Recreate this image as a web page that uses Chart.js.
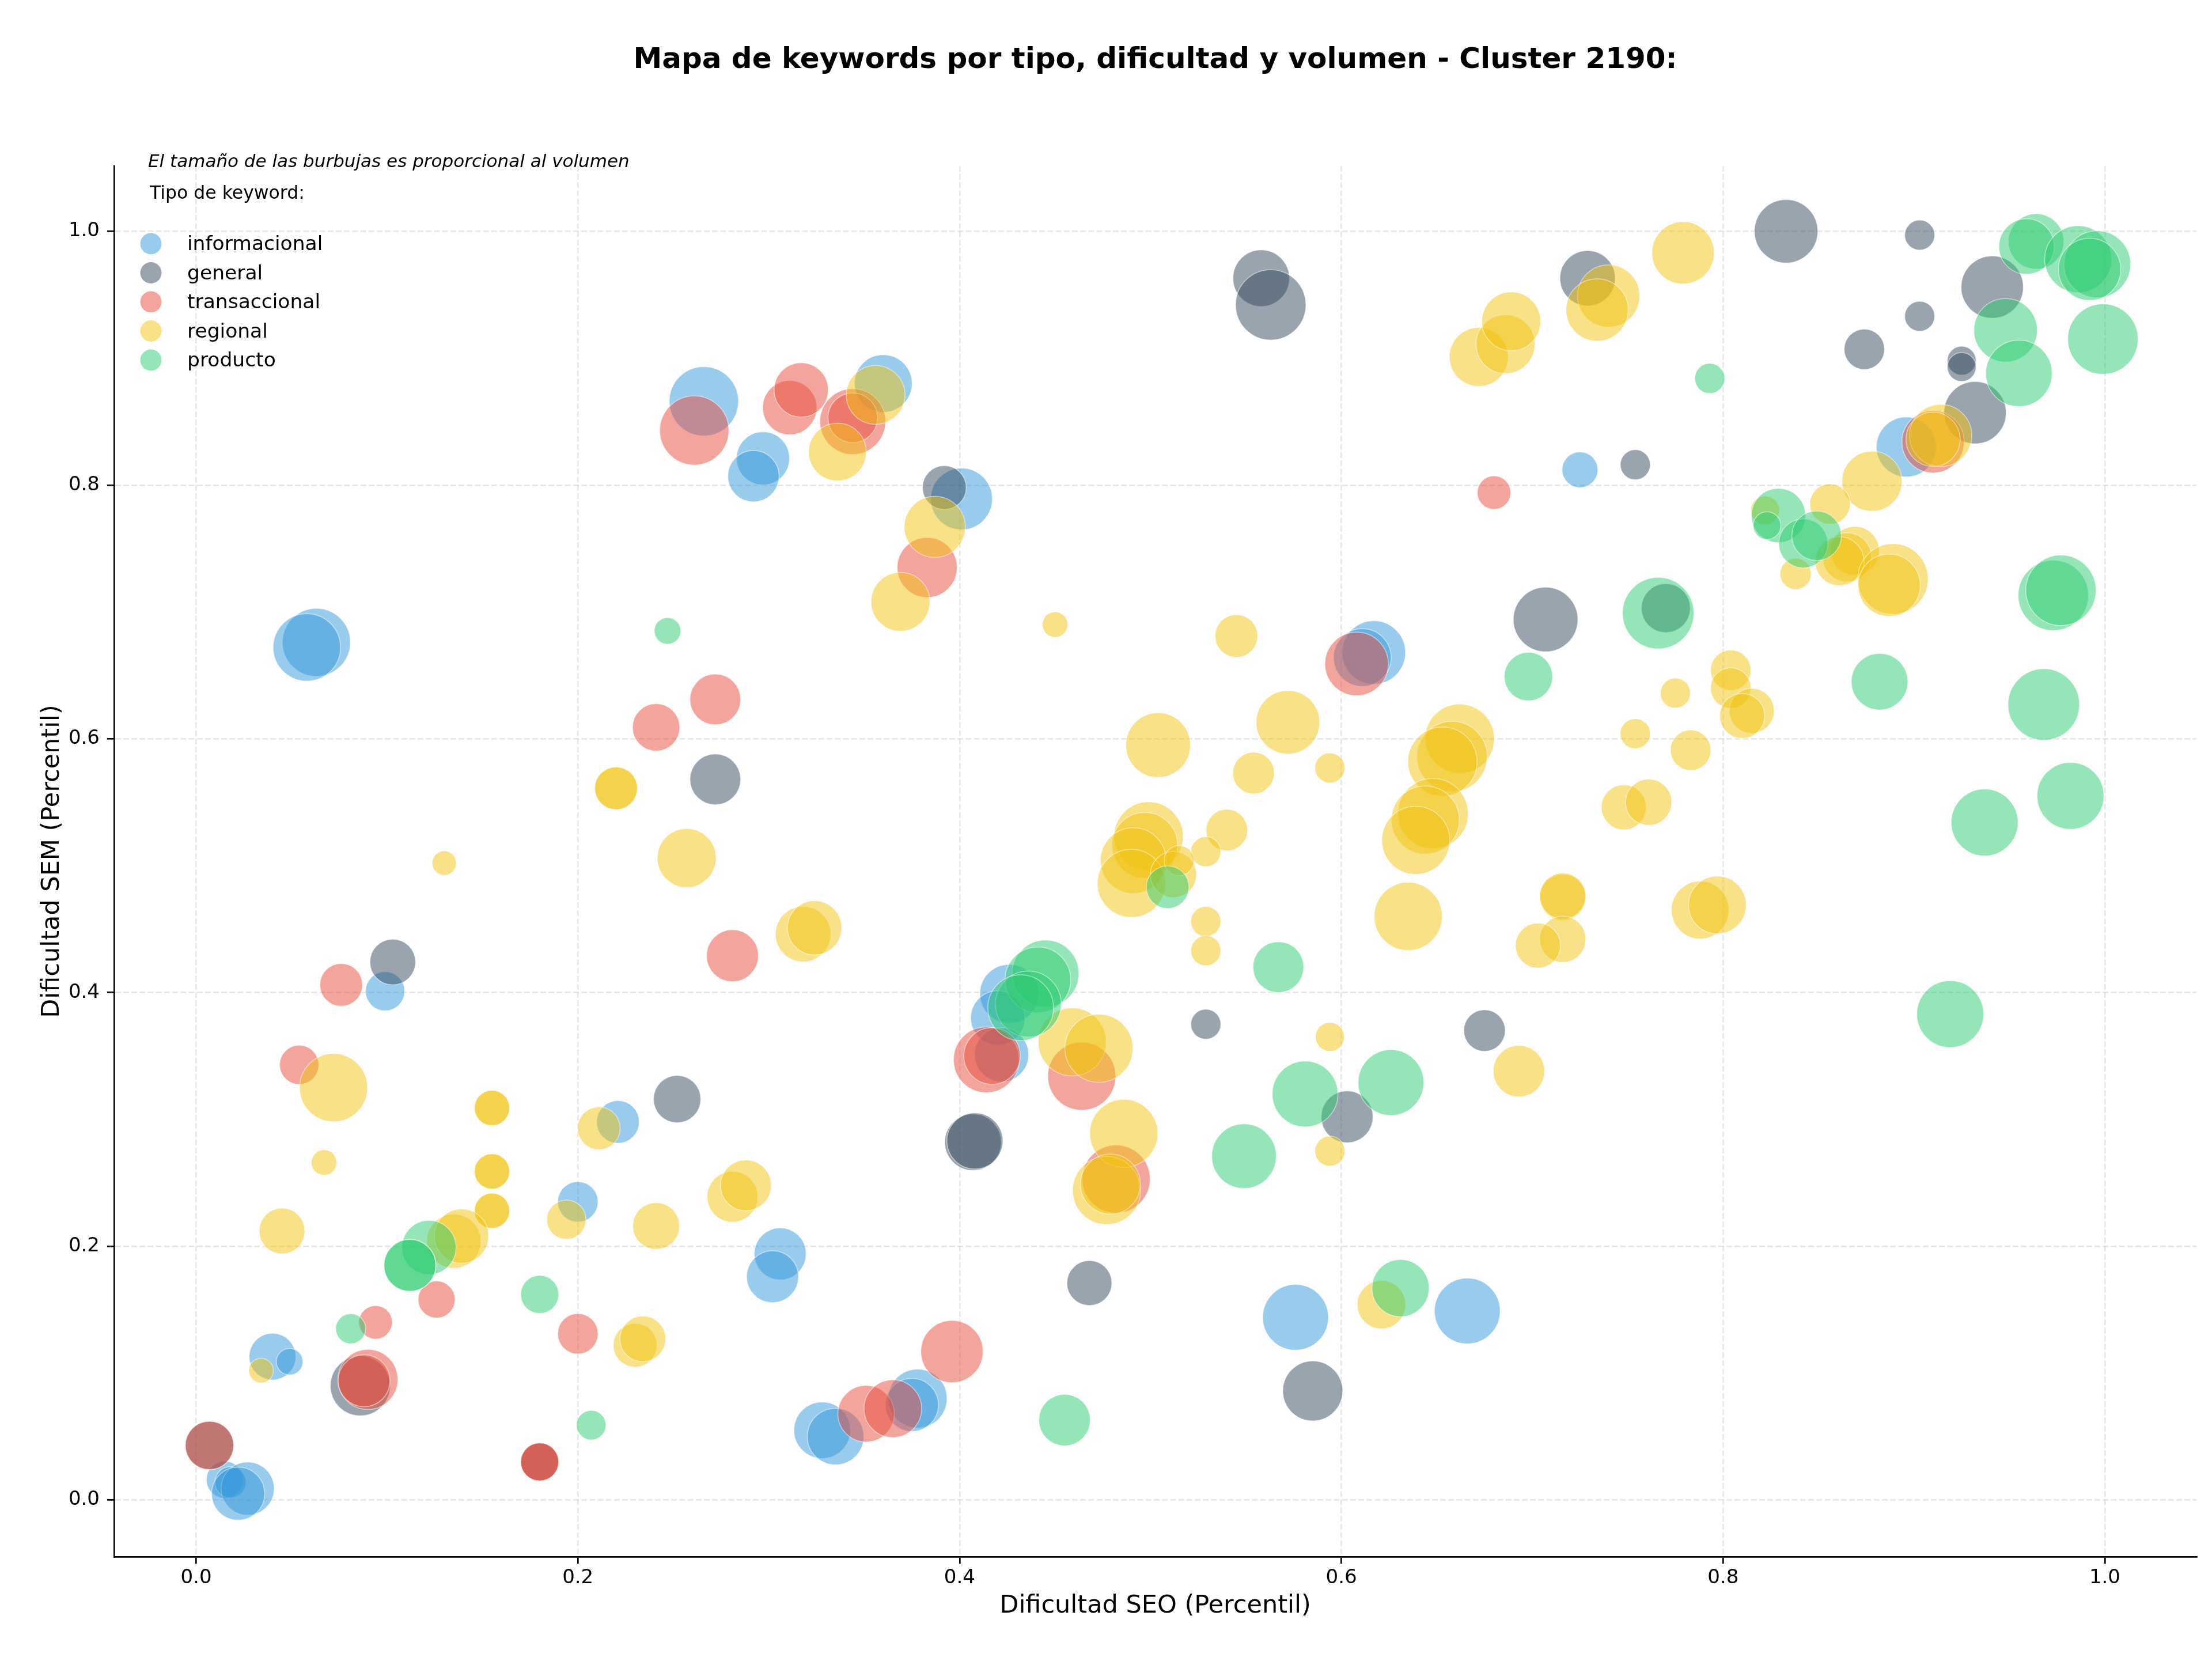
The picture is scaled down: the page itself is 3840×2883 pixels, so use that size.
<!DOCTYPE html>
<html><head><meta charset="utf-8">
<script src="https://cdn.jsdelivr.net/npm/chart.js@4/dist/chart.umd.min.js"></script>
<style>html,body{margin:0;padding:0;background:#fff;}#wrap{width:3840px;height:2883px;position:relative;}</style>
</head><body><div id="wrap"><canvas id="c" width="3840" height="2883"></canvas></div>
<script>
// ---- data ----
const titleText = 'Mapa de keywords por tipo, dificultad y volumen - Cluster 2190:';
const noteText = 'El tamaño de las burbujas es proporcional al volumen';
const legendTitle = 'Tipo de keyword:';
const xAxisTitle = 'Dificultad SEO (Percentil)';
const yAxisTitle = 'Dificultad SEM (Percentil)';
const categories = ['informacional','general','transaccional','regional','producto'];
const xTicks = [0, 0.2, 0.4, 0.6, 0.8, 1.0];
const yTicks = [0, 0.2, 0.4, 0.6, 0.8, 1.0];
const xTickLabels = ['0.0','0.2','0.4','0.6','0.8','1.0'];
const yTickLabels = ['0.0','0.2','0.4','0.6','0.8','1.0'];

// [dificultad SEO, dificultad SEM, volumen]
const informacional = [
[0.063,0.676,997],[0.058,0.672,980],[0.266,0.866,1031],[0.297,0.821,612],[0.292,0.807,574],[0.360,0.880,720],[0.401,0.789,823],[0.617,0.668,869],[0.611,0.664,720],[0.725,0.812,284],[0.896,0.830,778],[0.099,0.401,339],[0.221,0.298,400],[0.200,0.235,359],[0.306,0.194,586],[0.302,0.176,586],[0.040,0.113,477],[0.049,0.109,160],[0.015,0.016,302],[0.018,0.014,217],[0.027,0.009,612],[0.022,0.005,612],[0.426,0.399,749],[0.420,0.380,638],[0.422,0.351,638],[0.328,0.055,693],[0.335,0.050,693],[0.378,0.080,749],[0.375,0.075,612],[0.576,0.144,932],[0.666,0.149,932]
];
const general = [
[0.558,0.963,693],[0.563,0.942,1065],[0.833,1.000,869],[0.903,0.997,202],[0.903,0.933,202],[0.874,0.907,359],[0.925,0.898,187],[0.925,0.893,187],[0.941,0.956,838],[0.932,0.857,838],[0.729,0.963,665],[0.754,0.816,202],[0.392,0.798,421],[0.272,0.568,561],[0.103,0.424,457],[0.252,0.316,489],[0.086,0.090,778],[0.007,0.043,512],[0.180,0.030,320],[0.707,0.694,900],[0.770,0.703,524],[0.407,0.282,693],[0.408,0.283,680],[0.529,0.375,202],[0.675,0.370,379],[0.603,0.302,586],[0.468,0.171,443],[0.585,0.086,778]
];
const transaccional = [
[0.261,0.843,1031],[0.311,0.861,638],[0.317,0.875,638],[0.344,0.850,932],[0.344,0.853,536],[0.383,0.735,778],[0.272,0.631,561],[0.241,0.609,489],[0.608,0.659,869],[0.680,0.794,249],[0.910,0.834,838],[0.076,0.406,400],[0.281,0.429,586],[0.054,0.343,339],[0.126,0.158,302],[0.094,0.140,249],[0.200,0.131,359],[0.090,0.095,778],[0.088,0.094,586],[0.180,0.030,320],[0.180,0.030,320],[0.007,0.043,512],[0.414,0.347,932],[0.417,0.350,693],[0.464,0.334,997],[0.482,0.253,997],[0.396,0.117,838],[0.351,0.068,693],[0.365,0.072,720]
];
const regional = [
[0.336,0.826,720],[0.356,0.871,749],[0.387,0.767,808],[0.369,0.708,749],[0.450,0.690,147],[0.545,0.681,400],[0.220,0.561,400],[0.220,0.561,400],[0.257,0.506,749],[0.130,0.502,134],[0.504,0.595,900],[0.572,0.613,869],[0.554,0.573,379],[0.594,0.577,202],[0.540,0.528,379],[0.529,0.511,202],[0.499,0.523,1031],[0.497,0.516,932],[0.491,0.504,932],[0.490,0.486,997],[0.512,0.493,466],[0.515,0.504,202],[0.662,0.600,1031],[0.658,0.586,1065],[0.653,0.582,1031],[0.648,0.541,1065],[0.644,0.536,997],[0.639,0.520,997],[0.672,0.901,749],[0.686,0.911,749],[0.689,0.929,749],[0.740,0.949,838],[0.734,0.938,838],[0.779,0.983,838],[0.878,0.803,778],[0.856,0.785,359],[0.914,0.839,838],[0.910,0.836,638],[0.822,0.780,187],[0.869,0.748,524],[0.865,0.743,524],[0.861,0.740,524],[0.838,0.730,217],[0.889,0.726,1065],[0.887,0.721,838],[0.804,0.654,359],[0.804,0.640,359],[0.815,0.622,443],[0.810,0.618,443],[0.775,0.636,202],[0.754,0.604,202],[0.783,0.591,359],[0.748,0.546,443],[0.761,0.550,466],[0.716,0.475,466],[0.716,0.476,466],[0.716,0.442,466],[0.703,0.437,443],[0.788,0.465,720],[0.797,0.469,720],[0.693,0.338,574],[0.635,0.460,997],[0.529,0.456,202],[0.529,0.433,202],[0.459,0.361,997],[0.473,0.356,997],[0.486,0.289,997],[0.477,0.244,997],[0.479,0.249,778],[0.594,0.365,187],[0.594,0.275,202],[0.621,0.154,512],[0.318,0.446,665],[0.324,0.451,638],[0.072,0.325,997],[0.155,0.309,275],[0.155,0.309,275],[0.155,0.259,275],[0.155,0.259,275],[0.155,0.228,275],[0.155,0.228,275],[0.067,0.266,147],[0.045,0.212,457],[0.211,0.293,400],[0.194,0.221,339],[0.241,0.216,477],[0.281,0.239,561],[0.288,0.248,561],[0.135,0.204,638],[0.139,0.208,638],[0.230,0.122,421],[0.234,0.127,457],[0.034,0.102,139]
];
const producto = [
[0.247,0.685,160],[0.793,0.884,202],[0.948,0.922,869],[0.955,0.888,948],[0.964,0.992,665],[0.959,0.988,665],[0.986,0.978,964],[0.996,0.974,964],[0.992,0.970,838],[0.999,0.915,1065],[0.829,0.776,638],[0.823,0.768,173],[0.842,0.754,524],[0.849,0.760,536],[0.973,0.713,1065],[0.977,0.717,1065],[0.968,0.627,1099],[0.982,0.555,964],[0.937,0.534,964],[0.882,0.645,693],[0.766,0.699,1099],[0.698,0.649,512],[0.919,0.383,964],[0.509,0.483,400],[0.567,0.420,561],[0.581,0.320,932],[0.626,0.329,932],[0.549,0.271,900],[0.631,0.167,709],[0.455,0.063,577],[0.445,0.415,964],[0.441,0.410,932],[0.436,0.391,932],[0.432,0.388,932],[0.122,0.199,638],[0.112,0.185,586],[0.112,0.185,586],[0.180,0.162,320],[0.081,0.135,202],[0.207,0.059,195]
];

// ---- styles ----
const colors = ['#3498db','#34495e','#e74c3c','#f1c40f','#2ecc71'];
const FONT = '"DejaVu Sans", "Liberation Sans", sans-serif';
function rgba(hex, a){const n=parseInt(hex.slice(1),16);return `rgba(${n>>16},${(n>>8)&255},${n&255},${a})`;}
const radiusOf = v => Math.sqrt(v) * 1.9 - 1; // area proportional to volumen

Chart.defaults.font.family = FONT;
Chart.defaults.color = '#000';

const series = [informacional, general, transaccional, regional, producto];
const datasets = categories.map((name, i) => ({
  label: name,
  data: series[i].map(p => ({x: p[0], y: p[1], r: radiusOf(p[2])})),
  backgroundColor: rgba(colors[i], 0.5),
  borderColor: 'rgba(255,255,255,0.5)',
  borderWidth: 1.5,
  order: categories.length - i
}));

const gridCommon = {
  color: 'rgba(176,176,176,0.3)', lineWidth: 2.67,
  tickLength: 12, tickWidth: 2.67, tickColor: '#000', tickBorderDash: []
};
const borderCommon = {display: true, color: '#000', width: 2.67, dash: [9.9, 4.3]};

const overlay = {
  id: 'overlay',
  afterDraw(chart) {
    const ctx = chart.ctx, ca = chart.chartArea;
    ctx.save();
    ctx.fillStyle = '#000';
    ctx.textBaseline = 'alphabetic';
    ctx.textAlign = 'center';
    ctx.font = 'bold 50px ' + FONT;
    ctx.fillText(titleText, (ca.left + ca.right) / 2, 118);
    ctx.textAlign = 'left';
    ctx.font = 'italic 31px ' + FONT;
    ctx.fillText(noteText, 257, 290);
    ctx.font = '31.5px ' + FONT;
    ctx.fillText(legendTitle, 260, 345);
    categories.forEach((name, i) => {
      const cy = 423 + i * 50.5;
      ctx.beginPath();
      ctx.arc(262, cy, 18.5, 0, Math.PI * 2);
      ctx.fillStyle = rgba(colors[i], 0.5);
      ctx.fill();
      ctx.fillStyle = '#000';
      ctx.font = '34.5px ' + FONT;
      ctx.fillText(name, 325, cy + 11);
    });
    ctx.restore();
  }
};

new Chart(document.getElementById('c'), {
  type: 'bubble',
  data: {datasets},
  options: {
    responsive: false, animation: false, devicePixelRatio: 1, events: [],
    layout: {autoPadding: false, padding: {top: 288, right: 27, left: 0, bottom: 0}},
    plugins: {legend: {display: false}, tooltip: {enabled: false}, title: {display: false}},
    scales: {
      x: {
        type: 'linear', min: -0.043, max: 1.048,
        afterBuildTicks: s => { s.ticks = xTicks.map(v => ({value: v})); },
        afterFit: s => { s.height = 181; },
        ticks: {callback: (v, i) => xTickLabels[i], font: {size: 34}, padding: 5, maxRotation: 0, autoSkip: false, color: '#000'},
        grid: gridCommon, border: borderCommon,
        title: {display: true, text: xAxisTitle, font: {size: 43}, color: '#000', padding: {top: 0, bottom: 69}}
      },
      y: {
        type: 'linear', min: -0.0447, max: 1.0515,
        afterBuildTicks: s => { s.ticks = yTicks.map(v => ({value: v})); },
        afterFit: s => { s.width = 198; },
        ticks: {callback: (v, i) => yTickLabels[i], font: {size: 34}, padding: 13, autoSkip: false, color: '#000'},
        grid: gridCommon, border: borderCommon,
        title: {display: true, text: yAxisTitle, font: {size: 43}, color: '#000', padding: {top: 65, bottom: 0}}
      }
    }
  },
  plugins: [overlay]
});
</script></body></html>
